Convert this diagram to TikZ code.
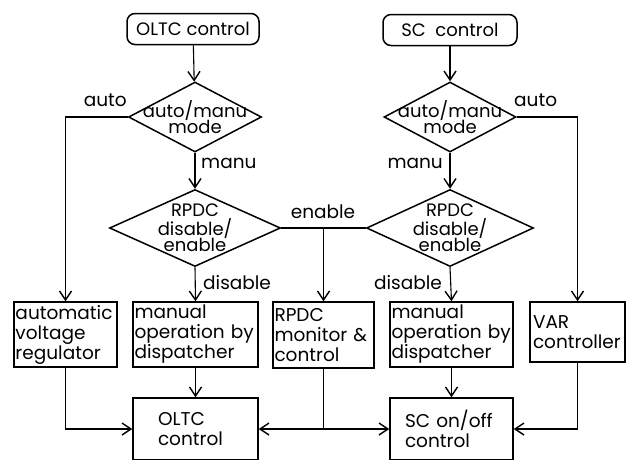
\documentclass[tikz,border=0pt]{standalone}
\usepackage{fontspec}
\setmainfont{Poppins}
\usetikzlibrary{arrows.meta,shapes.geometric}

\tikzset{
  conn/.style={line width=1.1pt},
  arr/.style={conn,-{Straight Barb[length=9pt,width=12pt,line width=1.4pt]}},
  startbox/.style={draw,rounded corners=8pt,line width=1.5pt,inner sep=0pt,
    minimum width=#1,minimum height=31pt,font=\fontsize{18}{21}\selectfont},
  decision/.style={diamond,draw,line width=1.5pt,inner sep=0pt},
  dtext/.style={align=center,font=\fontsize{18}{16.5}\selectfont,inner sep=0pt},
  actbox/.style={draw,line width=1.5pt,align=left,inner ysep=0pt,
    font=\fontsize{18.5}{20}\selectfont},
  lbl/.style={font=\fontsize{18.5}{20}\selectfont,inner sep=0pt}
}

\begin{document}
\begin{tikzpicture}[x=1pt,y=-1pt]
\useasboundingbox (0,0) rectangle (626,459);
\clip (0,0) rectangle (626,459);

% start blocks
\node[startbox=132pt] (oltc) at (193,29) {OLTC control};
\node[startbox=134pt] (sc) at (450,30) {SC\ \ control};

% mode decisions
\node[decision,minimum width=133pt,minimum height=70pt] (m1) at (195,117) {};
\node[dtext] at (m1.center) {auto/manu\\mode};
\node[decision,minimum width=132pt,minimum height=70pt] (m2) at (450,117) {};
\node[dtext] at (m2.center) {auto/manu\\mode};

% RPDC decisions
\node[decision,minimum width=171pt,minimum height=77pt] (d1) at (195,228) {};
\node[dtext] at (d1.center) {RPDC\\disable/\\enable};
\node[decision,minimum width=167pt,minimum height=77pt] (d2) at (450,228) {};
\node[dtext] at (d2.center) {RPDC\\disable/\\enable};

% action boxes
\node[actbox,inner xsep=1.5pt,text width=100pt,minimum height=65pt] (avr) at (65.5,334.5) {automatic\\voltage\\regulator};
\node[actbox,inner xsep=1.5pt,text width=122pt,minimum height=65pt] (man1) at (195.5,334.5) {manual\\operation by\\dispatcher};
\node[actbox,inner xsep=1.5pt,text width=98pt,minimum height=66pt] (mon) at (323.5,335) {RPDC\\monitor \&\\control};
\node[actbox,inner xsep=1.5pt,text width=120pt,minimum height=65pt] (man2) at (451.5,334.5) {manual\\operation by\\dispatcher};
\node[actbox,inner xsep=3pt,text width=89pt,minimum height=60pt] (var) at (577.5,332) {VAR\\controller};

% control blocks
\node[actbox,inner xsep=25pt,text width=75pt,minimum height=62pt] (oltcc) at (195.5,429) {OLTC\\control};
\node[actbox,inner xsep=15pt,text width=93pt,minimum height=62pt] (scc) at (451.5,429) {SC on/off\\control};

% OLTC branch
\draw[arr] (oltc) -- (m1);
\draw[arr] (m1.west) -| (avr.north);
\draw[arr] (m1.south) -- (d1.north);
\draw[arr] (d1.south) -- (man1.north);
\draw[arr] (avr.south) |- (oltcc.west);
\draw[arr] (man1.south) -- (oltcc.north);

% SC branch
\draw[arr] (sc) -- (m2);
\draw[arr] (m2.east) -| (var.north);
\draw[arr] (m2.south) -- (d2.north);
\draw[arr] (d2.south) -- (man2.north);
\draw[arr] (var.south) |- (scc.east);
\draw[arr] (man2.south) -- (scc.north);

% RPDC enable path
\draw[conn] (d1.east) -- (d2.west);
\coordinate (en) at (mon.north |- d1.east);
\draw[arr] (en) -- (mon.north);
\coordinate (mj) at (mon.south |- oltcc.east);
\draw[conn] (mon.south) -- (mj);
\draw[arr] (mj) -- (oltcc.east);
\draw[arr] (mj) -- (scc.west);

% branch labels
\node[lbl,anchor=east] at (127,100) {auto};
\node[lbl,anchor=west] at (514,100) {auto};
\node[lbl,anchor=west] at (201,163) {manu};
\node[lbl,anchor=east] at (443,163) {manu};
\node[lbl,anchor=west] at (203,283) {disable};
\node[lbl,anchor=east] at (442,283) {disable};
\node[lbl] at (323,212) {enable};
\end{tikzpicture}
\end{document}
